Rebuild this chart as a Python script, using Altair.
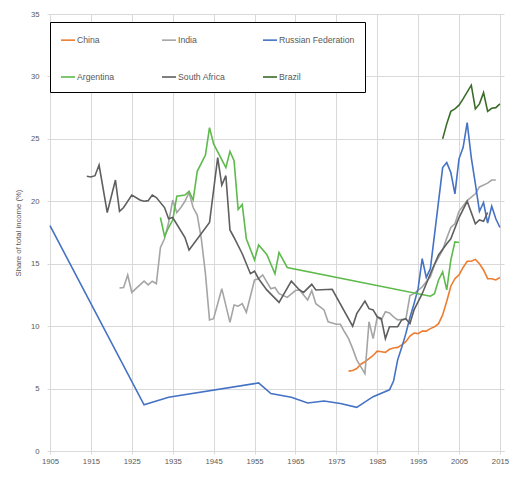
import altair as alt
import pandas as pd

# ---- data ----
china_years = list(range(1978, 2016))
china_share = [6.4, 6.45, 6.6, 6.95, 7.15, 7.4, 7.65, 8.0, 7.95, 7.9, 8.15, 8.25, 8.3,
               8.5, 8.75, 9.2, 9.45, 9.4, 9.6, 9.6, 9.8, 9.95, 10.2, 10.9, 12.0, 13.2,
               13.8, 14.1, 14.7, 15.2, 15.2, 15.35, 15.0, 14.5, 13.8, 13.8, 13.7, 13.9]

india_years = [1922, 1923, 1924, 1925, 1926, 1928, 1929, 1930, 1931, 1932, 1933, 1934,
               1935, 1936, 1937, 1938, 1939, 1940, 1941, 1942, 1943, 1944, 1945, 1947,
               1949, 1950, 1951, 1952, 1953, 1955, 1956, 1957, 1958, 1959, 1960, 1961,
               1963, 1965, 1966, 1968, 1969, 1970, 1972, 1973, 1975, 1976, 1977, 1978,
               1979, 1980, 1982, 1983, 1984, 1985, 1986, 1987, 1988, 1989, 1990, 1992,
               1993, 1994, 1996, 1997, 1998, 1999, 2001, 2002, 2003, 2004, 2005, 2007,
               2009, 2010, 2012, 2013, 2014]
india_share = [13.05, 13.1, 14.1, 12.7, 13.0, 13.6, 13.3, 13.6, 13.4, 16.3, 17.0, 18.3,
               20.1, 19.1, 19.5, 20.0, 20.7, 19.5, 18.9, 17.0, 14.2, 10.5, 10.6, 13.0,
               10.3, 11.7, 11.6, 11.8, 11.1, 13.7, 13.8, 14.1, 13.55, 13.0, 13.1, 12.6,
               12.3, 12.85, 12.9, 12.1, 12.85, 11.8, 11.3, 10.35, 10.15, 10.15, 9.55, 9.0,
               8.2, 7.3, 6.2, 10.35, 9.0, 10.7, 10.5, 11.15, 11.05, 10.75, 10.5, 10.55,
               12.45, 12.6, 13.15, 13.55, 13.95, 14.9, 16.1, 17.05, 17.9, 18.2, 19.2, 20.05,
               20.6, 21.15, 21.45, 21.7, 21.7]

russia_years = [1905, 1928, 1934, 1956, 1959, 1964, 1968, 1972, 1976, 1980, 1984, 1988,
                1989, 1990, 1991, 1992, 1993, 1994, 1995, 1996, 1997, 1998, 2001, 2002,
                2003, 2004, 2005, 2006, 2007, 2008, 2009, 2010, 2011, 2012, 2013, 2014, 2015]
russia_share = [18.05, 3.7, 4.3, 5.45, 4.6, 4.3, 3.85, 4.0, 3.8, 3.5, 4.35, 4.9,
                5.6, 7.3, 8.3, 9.4, 10.7, 11.8, 13.0, 15.4, 13.9, 14.6, 22.7, 23.1,
                22.3, 20.6, 23.4, 24.3, 26.3, 23.5, 21.4, 19.2, 19.9, 18.25, 19.6, 18.6, 17.9]

argentina_years = [1932, 1933, 1934, 1935, 1936, 1938, 1939, 1940, 1941, 1943, 1944, 1945,
                   1948, 1949, 1950, 1951, 1952, 1953, 1955, 1956, 1958, 1960, 1961, 1963,
                   1998, 1999, 2000, 2001, 2002, 2003, 2004, 2005]
argentina_share = [18.7, 17.2, 17.9, 18.5, 20.4, 20.5, 20.8, 20.1, 22.4, 23.7, 25.9, 24.6,
                   22.7, 24.0, 23.25, 19.35, 19.75, 17.0, 15.3, 16.5, 15.75, 14.2, 15.9, 14.7,
                   12.4, 12.6, 13.7, 14.35, 12.9, 15.3, 16.75, 16.7]

southafrica_years = [1914, 1915, 1916, 1917, 1919, 1921, 1922, 1923, 1925, 1927, 1928, 1929,
                     1930, 1931, 1933, 1934, 1935, 1938, 1939, 1944, 1946, 1947, 1948, 1949,
                     1950, 1952, 1954, 1955, 1956, 1958, 1961, 1964, 1966, 1967, 1969, 1970,
                     1974, 1979, 1980, 1982, 1983, 1984, 1985, 1986, 1987, 1988, 1990, 1991,
                     1992, 1993, 1994, 1996, 1998, 2000, 2002, 2003, 2005, 2007, 2009, 2010,
                     2011, 2012]
southafrica_share = [22.0, 21.95, 22.05, 22.9, 19.1, 21.7, 19.2, 19.5, 20.5, 20.1, 20.0, 20.05,
                     20.5, 20.3, 19.5, 18.6, 18.7, 17.1, 16.1, 18.3, 23.5, 21.3, 22.05, 17.7,
                     17.1, 15.8, 14.2, 14.4, 13.8, 12.9, 11.9, 13.6, 12.9, 12.7, 13.35, 12.9,
                     12.95, 10.0, 11.0, 12.0, 11.4, 11.3, 10.75, 10.6, 9.0, 9.95, 9.95, 10.5,
                     10.6, 10.2, 11.3, 12.6, 14.2, 15.7, 16.6, 17.0, 18.7, 20.0, 18.2, 18.5,
                     18.4, 19.1]

brazil_years = [2001, 2002, 2003, 2004, 2005, 2006, 2008, 2009, 2010, 2011, 2012, 2013,
                2014, 2015]
brazil_share = [25.0, 26.2, 27.2, 27.4, 27.7, 28.2, 29.3, 27.4, 27.8, 28.7, 27.2, 27.45,
                27.5, 27.8]

series_names = ["China", "India", "Russian Federation", "Argentina", "South Africa", "Brazil"]
series_colors = ["#ED7D31", "#A5A5A5", "#4472C4", "#5DBA4B", "#5F5F5F", "#3A6D28"]
series_years = [china_years, india_years, russia_years, argentina_years,
                southafrica_years, brazil_years]
series_values = [china_share, india_share, russia_share, argentina_share,
                 southafrica_share, brazil_share]

x_ticks = list(range(1905, 2016, 10))
y_ticks = list(range(0, 36, 5))

rows = []
for name, yrs, vals in zip(series_names, series_years, series_values):
    for yr, v in zip(yrs, vals):
        rows.append({"country": name, "year": yr, "share": v})
df = pd.DataFrame(rows)

label_color = "#595959"
grid_color = "#D9D9D9"
font = "Liberation Sans"

chart = alt.Chart(df).mark_line(strokeWidth=1.6).encode(
    x=alt.X("year:Q",
            scale=alt.Scale(domain=[1905, 2016], nice=False, zero=False),
            axis=alt.Axis(values=x_ticks, format="d", title=None, labelFlush=False,
                          labelFontSize=7.7, labelColor=label_color, labelFont=font,
                          gridColor=grid_color, domainColor=grid_color,
                          tickColor=grid_color, tickSize=3, labelPadding=3)),
    y=alt.Y("share:Q",
            scale=alt.Scale(domain=[0, 35], nice=False),
            axis=alt.Axis(values=y_ticks, title="Share of total income (%)",
                          labelFontSize=7.7, labelColor=label_color, labelFont=font,
                          titleFont=font, titleFontSize=7.7, titleFontWeight="normal",
                          titleColor=label_color, titlePadding=8,
                          gridColor=grid_color, domainColor=grid_color,
                          tickColor=grid_color, tickSize=3, labelPadding=8)),
    color=alt.Color("country:N",
                    scale=alt.Scale(domain=series_names, range=series_colors),
                    legend=alt.Legend(orient="none", legendX=0, legendY=8, columns=3,
                                      direction="horizontal",
                                      title=None, symbolType="stroke", symbolSize=196,
                                      symbolStrokeWidth=1.6, labelFont=font,
                                      labelFontSize=8.7, labelColor=label_color,
                                      labelOffset=1, gridAlign="all", columnPadding=5,
                                      rowPadding=24, padding=10, strokeColor="black",
                                      fillColor="white", cornerRadius=0)),
    order=alt.Order("year:Q"),
).properties(
    width=454,
    height=437,
    autosize=alt.AutoSizeParams(type="none"),
    padding={"left": 42, "top": 6, "right": 15, "bottom": 25},
).configure_view(strokeWidth=0)

chart.save("out.html", embed_options={"renderer": "svg", "actions": False})
